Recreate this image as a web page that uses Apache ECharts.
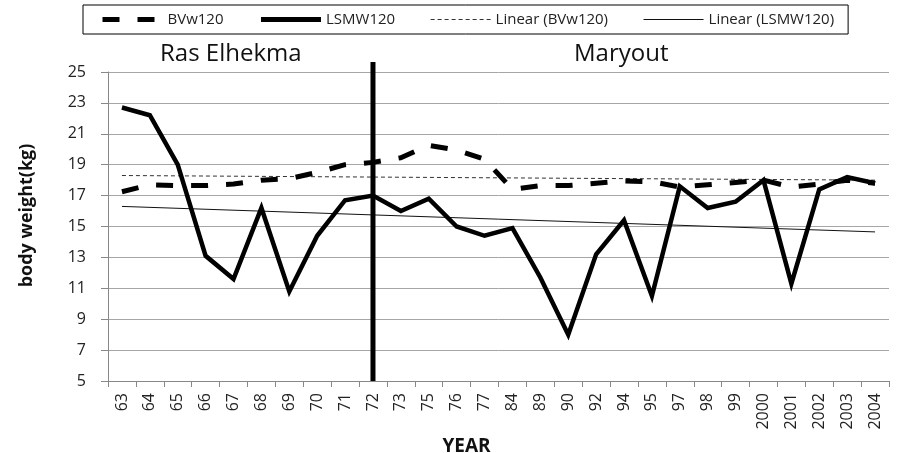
<!DOCTYPE html>
<html>
<head>
<meta charset="utf-8">
<script src="https://cdn.jsdelivr.net/npm/echarts@6/dist/echarts.min.js"></script>
<style>
html,body{margin:0;padding:0;background:#fff;}
#chart{width:898px;height:453px;}
</style>
</head>
<body>
<div id="chart"></div>
<script>
var years = ['63','64','65','66','67','68','69','70','71','72','73','75','76','77','84','89','90','92','94','95','97','98','99','2000','2001','2002','2003','2004'];
var bvw120 = [17.25,17.7,17.65,17.65,17.75,18.0,18.1,18.5,19.0,19.15,19.45,20.25,19.95,19.35,17.4,17.65,17.65,17.8,17.95,17.9,17.55,17.7,17.85,18.0,17.55,17.75,18.0,17.8];
var lsmw120 = [22.7,22.2,19.0,13.1,11.6,16.2,10.8,14.4,16.7,17.0,16.0,16.8,15.0,14.4,14.9,11.7,8.0,13.2,15.4,10.5,17.6,16.2,16.6,18.0,11.3,17.4,18.2,17.8];
var trendBvwEnds = [18.3, 18.0];
var trendLsmwEnds = [16.3, 14.65];
var separatorYear = '72';
var separatorRange = [5, 25.65];
var yTicks = {min: 5, max: 25, step: 2};
var seriesNames = ['BVw120', 'LSMW120', 'Linear (BVw120)', 'Linear (LSMW120)'];
var regionLabels = ['Ras Elhekma', 'Maryout'];

var chart = echarts.init(document.getElementById('chart'));
var F = '"Open Sans", sans-serif';
var first = years[0], last = years[years.length - 1];

chart.setOption({
  backgroundColor: '#fff',
  animation: false,
  color: ['#000', '#000', '#333', '#111'],
  textStyle: {fontFamily: F, color: '#222'},
  grid: {left: 108, right: 9, top: 72, bottom: 72, containLabel: false, outerBoundsMode: 'none'},
  legend: {
    left: 83, top: 5,
    data: [
      {name: seriesNames[0], lineStyle: {width: 5, type: [17, 18], color: '#000'}},
      {name: seriesNames[1], lineStyle: {width: 5, color: '#000'}},
      {name: seriesNames[2], lineStyle: {width: 1, type: [4, 3], color: '#333'}},
      {name: seriesNames[3], lineStyle: {width: 1, color: '#111'}}
    ],
    itemStyle: {opacity: 0},
    itemWidth: 60, itemHeight: 14, itemGap: 35,
    padding: [7, 14, 7, 17],
    borderColor: '#000', borderWidth: 1,
    textStyle: {fontFamily: F, fontSize: 15, color: '#222'}
  },
  xAxis: {
    type: 'category', data: years, boundaryGap: true,
    name: 'YEAR', nameLocation: 'middle', nameGap: 52,
    nameTextStyle: {fontFamily: F, fontSize: 19, fontWeight: 'bold', color: '#111', padding: [0, 64, 0, 0]},
    axisLine: {lineStyle: {color: '#888', width: 1}},
    axisTick: {show: true, alignWithLabel: false, length: 6, lineStyle: {color: '#888'}},
    axisLabel: {rotate: 90, margin: 12, fontFamily: F, fontSize: 16, color: '#222', interval: 0},
    splitLine: {show: false}
  },
  yAxis: {
    type: 'value', min: yTicks.min, max: yTicks.max, interval: yTicks.step,
    name: 'body weight(kg)', nameLocation: 'middle', nameGap: 72, nameRotate: 90,
    nameTextStyle: {fontFamily: F, fontSize: 18, fontWeight: 'bold', color: '#111', padding: [0, 0, 0, 22]},
    axisLine: {show: true, lineStyle: {color: '#888', width: 1}},
    axisTick: {show: true, length: 7, lineStyle: {color: '#888'}},
    axisLabel: {margin: 22, fontFamily: F, fontSize: 16, color: '#222'},
    splitLine: {show: true, lineStyle: {color: '#a6a6a6', width: 1}}
  },
  graphic: [
    {type: 'text', left: 160, top: 42, style: {text: regionLabels[0], font: '24px "Open Sans", sans-serif', fill: '#111'}},
    {type: 'text', left: 574, top: 42, style: {text: regionLabels[1], font: '24px "Open Sans", sans-serif', fill: '#111'}}
  ],
  series: [
    {
      name: seriesNames[2], type: 'line', showSymbol: false, symbol: 'none',
      data: [[first, trendBvwEnds[0]], [last, trendBvwEnds[1]]],
      lineStyle: {color: '#333', width: 1, type: [4, 3]}, z: 2
    },
    {
      name: seriesNames[3], type: 'line', showSymbol: false, symbol: 'none',
      data: [[first, trendLsmwEnds[0]], [last, trendLsmwEnds[1]]],
      lineStyle: {color: '#111', width: 1}, z: 2
    },
    {
      name: seriesNames[1], type: 'line', showSymbol: false, symbol: 'none',
      data: lsmw120,
      lineStyle: {color: '#000', width: 4.5, join: 'miter'}, z: 3
    },
    {
      name: seriesNames[0], type: 'line', showSymbol: false, symbol: 'none',
      data: bvw120,
      lineStyle: {color: '#000', width: 5, type: [17, 18]}, z: 4
    },
    {
      name: 'separator', type: 'line', showSymbol: false, symbol: 'none', clip: false,
      data: [[separatorYear, separatorRange[0]], [separatorYear, separatorRange[1]]],
      lineStyle: {color: '#000', width: 5}, z: 5, silent: true
    }
  ]
});
</script>
</body>
</html>
